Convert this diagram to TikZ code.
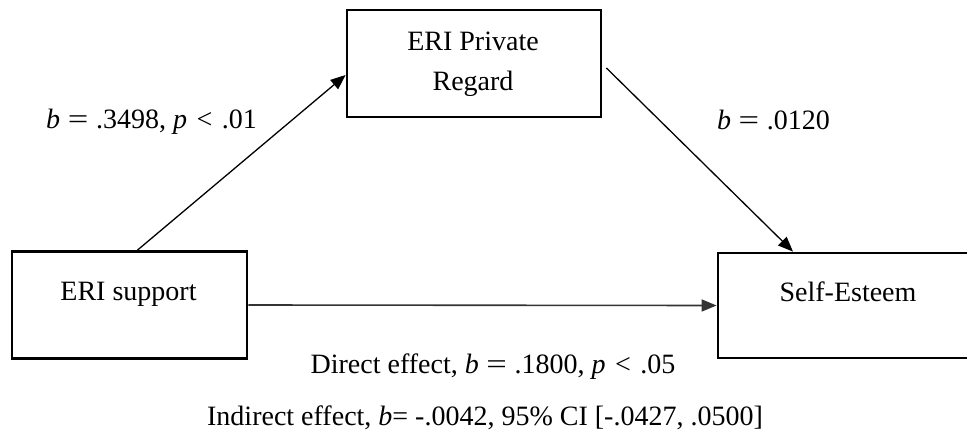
\documentclass[tikz,border=0pt]{standalone}
\usepackage{fontspec}
\setmainfont{Liberation Serif}
\usetikzlibrary{arrows.meta}
\newcommand{\meq}{\makebox[0.78em]{\scalebox{1.3}[1]{=}}}
\newcommand{\mlt}{\makebox[0.74em]{<}}
\begin{document}
\begin{tikzpicture}[x=1pt,y=-1pt,
  every node/.style={font=\fontsize{28}{34}\selectfont},
  box/.style={draw, line width=2.8pt, inner sep=0pt},
  lbl/.style={anchor=base, inner sep=0pt},
  arr/.style={line width=1.3pt, -{Triangle[length=15pt,width=12pt]}}
]
\useasboundingbox (0,0) rectangle (967,439);
\clip (0,0) rectangle (967,439);
\node[box, minimum width=235pt, minimum height=107pt] (sup) at (129.5,305) {};
\node[box, minimum width=254pt, minimum height=107pt] (pr) at (474,63.5) {};
\node[box, minimum width=260pt, minimum height=105pt] (se) at (848,305.5) {};
\node[lbl] (tsup) at (128.5,300) {ERI support};
\node[lbl] (tpr1) at (473,50) {ERI Private};
\node[lbl] (tpr2) at (473,90) {Regard};
\node[lbl] (tse) at (848,301) {Self-Esteem};
\draw[arr] ([xshift=8pt]sup.north) -- ([yshift=-11.5pt]pr.west);
\draw[arr] ([shift={(4pt,-4.5pt)}]pr.east) -- ([xshift=-55pt]se.north);
\draw[arr, line width=1.6pt, draw=black!80] (sup.east) -- (se.west);
\node[lbl] (la) at (151.5,128) {\textit{b} \meq{} .3498, \textit{p} \mlt{} .01};
\node[lbl] (lb) at (773.5,129) {\textit{b} \meq{} .0120};
\node[lbl] (lc) at (493,373) {Direct effect, \textit{b} \meq{} .1800, \textit{p} \mlt{} .05};
\node[lbl] (ld) at (485,425) {Indirect effect, \textit{b}= -.0042, 95\% CI [-.0427, .0500]};
\end{tikzpicture}
\end{document}
